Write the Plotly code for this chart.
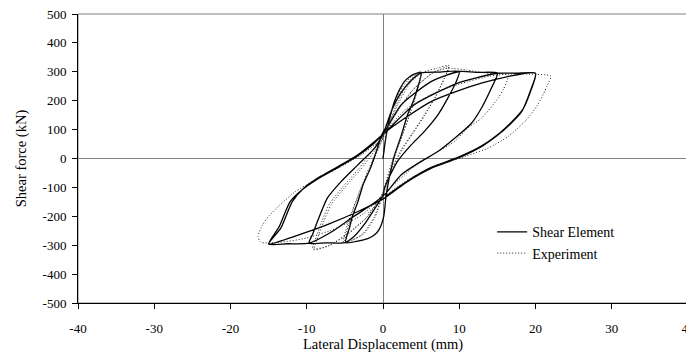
import plotly.graph_objects as go

# ---- Data ----
shear_x = [0, 0.3, 0.8, 1.5, 2.2, 2.8, 3.5, 4.1, 5,
           4.6, 4.0, 3.2, 2.4, 1.5, 0.8, 0.4,
           0.1, -0.5, -1.1, -2.0, -3.3, -4.9,
           -4.4, -4.0, -3.3, -2.6, -1.6, -0.8, -0.2, 0.3,
           1.2, 2.3, 3.5, 5, 7.5, 10,
           9.6, 8.5, 7.2, 5.4, 3.7, 1.9, 0.9, 0.2, 0,
           -1.0, -2.5, -3.8, -5.0, -7.5, -9.7,
           -9.2, -8.6, -7.3, -5.5, -3.3, -1.1, 0.5,
           2.4, 6.3, 10, 12.5, 15,
           14.2, 12.9, 11.6, 9.4, 7.2, 5.0, 2.4, 0.2,
           -1.5, -3.8, -6.5, -9.7, -12.5, -15,
           -13.4, -11.9, -10.4, -8.2, -5.5, -3.3, -1.1, 0.6,
           4.1, 9.8, 15, 17.5, 20,
           19.3, 18.2, 16.8, 15.1, 12.9, 9.8, 6.3, 3.2, 0.2,
           -3.0, -7.3, -11.7, -15,
           -13.6, -12.2, -10.6, -8.4, -5.7, -3.4, -1.2, 0.5,
           6.3, 12.9, 20,
           19.4, 18.3, 16.9, 15.2, 13.0, 9.9, 6.4, 3.3, 0.3]
shear_y = [0, 60, 130, 197, 240, 266, 283, 292, 296,
           250, 200, 150, 80, 10, -70, -130,
           -200, -245, -264, -277, -286, -291,
           -240, -200, -150, -90, -30, 30, 80, 105,
           170, 225, 265, 296, 299, 301,
           266, 209, 151, 93, 47, -10, -60, -103, -128,
           -170, -230, -270, -291, -292, -293,
           -260, -218, -137, -80, -22, 36, 105,
           186, 266, 301, 298, 295,
           243, 174, 122, 70, 24, -10, -56, -125,
           -160, -200, -250, -293, -295, -296,
           -241, -149, -103, -62, -22, 13, 59, 99,
           186, 261, 295, 295, 295,
           232, 163, 122, 82, 41, 1, -34, -80, -137,
           -180, -229, -270, -296,
           -235, -150, -108, -68, -28, 8, 52, 95,
           197, 261, 295,
           236, 168, 127, 86, 45, 5, -30, -76, -132]

exp_x = [0, 0.5, 1.2, 2.5, 3.8, 5,
         4.5, 3.5, 2.5, 1.3, 0.3, 0,
         -1.0, -2.5, -4.0, -5.0,
         -4.5, -3.8, -2.8, -1.6, -0.5, 0.5,
         2.0, 3.5, 5,
         4.6, 3.7, 2.6, 1.5, 0.5, 0.1,
         -1.2, -2.7, -4.2, -5.2,
         -4.7, -3.9, -2.9, -1.8, -0.6, 0.4,
         2.1, 3.6, 5.2, 7.0, 8.7,
         8.1, 7.0, 5.5, 4.0, 2.5, 1.0, 0,
         -2.0, -4.5, -7.0, -9.0,
         -8.5, -7.8, -6.8, -5.0, -3.0, -1.0, 0.5,
         2.0, 4.0, 6.5, 8.6,
         8.0, 6.9, 5.3, 3.8, 2.3, 0.8, -0.1,
         -2.2, -4.8, -7.2, -9.2,
         -8.7, -8.0, -7.0, -5.2, -3.2, -1.2, 0.4,
         2.2, 4.2, 6.6, 8.5, 11, 13.5, 16.4,
         15.8, 15.1, 12.9, 11.1, 9.4, 7.0, 4.0, 1.0, 0,
         -2.5, -6.0, -10.0, -13.5, -16.0,
         -16.4, -15.8, -15.0, -13.5, -11.5, -9.0, -6.0, -3.0, -0.5, 0.5,
         3.0, 7.0, 11.0, 14.0, 16.4, 19.0, 22,
         21.5, 20.3, 18.6, 16.4, 13.8, 10.7, 7.0, 3.5, 0.5,
         -2.0]
exp_y = [0, 90, 170, 245, 285, 300,
         240, 160, 80, 0, -90, -120,
         -200, -260, -282, -288,
         -230, -170, -100, -30, 40, 100,
         200, 270, 302,
         245, 165, 85, 5, -85, -118,
         -205, -262, -284, -290,
         -232, -172, -102, -32, 38, 98,
         195, 262, 298, 312, 322,
         280, 220, 150, 90, 30, -50, -120,
         -200, -260, -300, -316,
         -270, -220, -160, -100, -40, 30, 100,
         170, 240, 295, 318,
         276, 214, 146, 86, 26, -54, -122,
         -205, -262, -303, -312,
         -268, -216, -156, -96, -36, 34, 102,
         175, 245, 298, 312, 306, 296, 287,
         240, 209, 139, 105, 59, 20, -30, -100, -125,
         -190, -240, -275, -290, -290,
         -270, -230, -200, -160, -115, -75, -35, 10, 60, 100,
         170, 230, 265, 285, 292, 292, 285,
         250, 186, 128, 76, 36, 7, -25, -70, -125,
         -190]

x_ticks = [-40, -30, -20, -10, 0, 10, 20, 30, 40]
y_ticks = [-500, -400, -300, -200, -100, 0, 100, 200, 300, 400, 500]

FONT = "Liberation Serif"

fig = go.Figure()
fig.add_trace(go.Scatter(x=shear_x, y=shear_y, mode="lines", name="Shear Element",
                         line=dict(color="#000000", width=1.3, shape="spline", smoothing=0.6)))
fig.add_trace(go.Scatter(x=exp_x, y=exp_y, mode="lines", name="Experiment",
                         line=dict(color="#222222", width=1.0, dash="1px,2px", shape="spline", smoothing=0.6)))

fig.add_shape(type="rect", xref="paper", yref="paper", x0=0, y0=0, x1=1, y1=1,
              line=dict(color="#808080", width=1), layer="below")

# note: the page body adds an 8px offset, margins compensate for it
fig.update_layout(
    width=694, height=352,
    margin=dict(l=70, r=14, t=6, b=57, autoexpand=False),
    paper_bgcolor="white", plot_bgcolor="white",
    font=dict(family=FONT, size=12, color="#000000"),
    showlegend=True,
    legend=dict(x=0.679, y=0.30, xanchor="left", yanchor="top",
                bgcolor="rgba(0,0,0,0)", font=dict(family=FONT, size=14),
                itemwidth=30, tracegroupgap=0),
    xaxis=dict(range=[-40, 40], tickvals=x_ticks, ticktext=[str(v) for v in x_ticks],
               automargin=False, ticklabeloverflow="allow",
               showgrid=False, zeroline=True, zerolinecolor="#808080", zerolinewidth=1,
               showline=True, linecolor="#000000", linewidth=1,
               ticks="outside", ticklen=5, tickcolor="#000000",
               ticklabelstandoff=8, tickfont=dict(family=FONT, size=13),
               title=dict(text="Lateral Displacement (mm)", standoff=1,
                          font=dict(family=FONT, size=14.5))),
    yaxis=dict(range=[-500, 500], tickvals=y_ticks, ticktext=[str(v) for v in y_ticks],
               automargin=False, ticklabeloverflow="allow",
               showgrid=False, zeroline=True, zerolinecolor="#808080", zerolinewidth=1,
               showline=True, linecolor="#000000", linewidth=1,
               ticks="outside", ticklen=5, tickcolor="#000000",
               ticklabelstandoff=3, tickfont=dict(family=FONT, size=13),
               title=dict(text="Shear force (kN)", standoff=12,
                          font=dict(family=FONT, size=14.5))),
)

fig.write_html("out.html")
